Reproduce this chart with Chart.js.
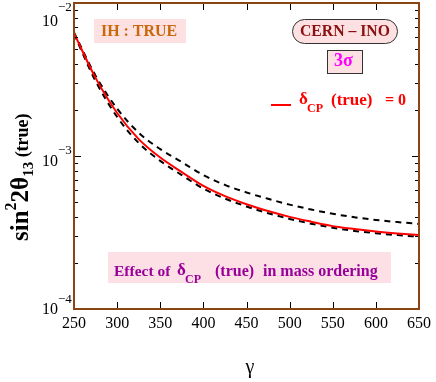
<!DOCTYPE html>
<html><head><meta charset="utf-8">
<script src="https://cdn.jsdelivr.net/npm/chart.js@4.4.1/dist/chart.umd.min.js"></script>
<style>html,body{margin:0;padding:0;background:#fff;}#wrap{width:436px;height:382px;}</style>
</head><body><div id="wrap"><canvas id="c" width="436" height="382"></canvas></div>
<script>
// ---- data ----
const gammaValues   = [250, 275, 300, 325, 350, 375, 400, 425, 450, 475, 500, 525, 550, 575, 600, 625, 650];
const redDeltaZero  = [6.34e-3, 3.24e-3, 1.91e-3, 1.29e-3, 9.77e-4, 7.85e-4, 6.38e-4, 5.47e-4, 4.84e-4, 4.37e-4, 4.00e-4, 3.72e-4, 3.48e-4, 3.33e-4, 3.21e-4, 3.12e-4, 3.05e-4];
const dashedUpper   = [6.41e-3, 3.35e-3, 2.04e-3, 1.42e-3, 1.109e-3, 9.12e-4, 7.50e-4, 6.47e-4, 5.78e-4, 5.25e-4, 4.81e-4, 4.47e-4, 4.19e-4, 3.98e-4, 3.82e-4, 3.70e-4, 3.60e-4];
const dashedLower   = [6.27e-3, 3.09e-3, 1.80e-3, 1.216e-3, 9.29e-4, 7.50e-4, 6.12e-4, 5.27e-4, 4.68e-4, 4.23e-4, 3.88e-4, 3.61e-4, 3.40e-4, 3.24e-4, 3.13e-4, 3.04e-4, 2.97e-4];
const xTickValues   = [250, 300, 350, 400, 450, 500, 550, 600, 650];
const yMajorTicks   = [1e-4, 1e-3, 1e-2];
const yTickExponent = ['\u22124', '\u22123', '\u22122'];

const SERIF = "'Liberation Serif','Times New Roman',serif";
const toXY = arr => gammaValues.map((g, i) => ({x: g, y: arr[i]}));

// bold text whose font size is chosen so it spans about a given width (capped)
function fitText(ctx, text, x, y, width, maxSize) {
  ctx.font = 'bold 100px ' + SERIF;
  let size = 100 * width / ctx.measureText(text).width;
  if (size > maxSize) size = maxSize;
  ctx.font = 'bold ' + size.toFixed(2) + 'px ' + SERIF;
  ctx.fillText(text, x, y);
}

const decorPlugin = {
  id: 'decor',
  afterDraw(chart) {
    const ctx = chart.ctx, a = chart.chartArea;
    const xs = chart.scales.x, ys = chart.scales.y;
    ctx.save();
    // ticks
    ctx.strokeStyle = '#000'; ctx.lineWidth = 1;
    ctx.beginPath();
    xTickValues.forEach(v => {
      const px = Math.round(xs.getPixelForValue(v)) + 0.5;
      ctx.moveTo(px, a.bottom); ctx.lineTo(px, a.bottom - 7);
      ctx.moveTo(px, a.top); ctx.lineTo(px, a.top + 7);
    });
    for (let e = -4; e <= -3; e++) {
      for (let k = 1; k <= 10; k++) {
        const v = k * Math.pow(10, e);
        const py = Math.round(ys.getPixelForValue(v)) + 0.5;
        const len = (k === 1 || k === 10) ? 7 : 4;
        ctx.moveTo(a.left, py); ctx.lineTo(a.left + len, py);
        ctx.moveTo(a.right, py); ctx.lineTo(a.right - len, py);
      }
    }
    ctx.stroke();
    // frame
    ctx.strokeStyle = '#8b4513'; ctx.lineWidth = 2;
    ctx.strokeRect(a.left, a.top, a.right - a.left, a.bottom - a.top);

    // y tick labels (10^n)
    const labelShift = [[1, -9], [6, -5], [19, 5]];
    ctx.fillStyle = '#000';
    yMajorTicks.forEach((v, i) => {
      const py = ys.getPixelForValue(v);
      ctx.font = '16px ' + SERIF;
      ctx.textAlign = 'right'; ctx.textBaseline = 'middle';
      ctx.fillText('10', 58, py + labelShift[i][0]);
      ctx.font = '13px ' + SERIF;
      ctx.textAlign = 'left';
      ctx.fillText(yTickExponent[i], 58, py + labelShift[i][1]);
    });

    // x title
    ctx.font = '20px ' + SERIF;
    ctx.textAlign = 'center'; ctx.textBaseline = 'alphabetic';
    ctx.fillText('\u03b3', 250, 373);

    // y title (rotated)
    ctx.save();
    ctx.translate(28, 241);
    ctx.rotate(-Math.PI / 2);
    ctx.textAlign = 'left'; ctx.textBaseline = 'alphabetic';
    let u = 0;
    const piece = (t, size, dv) => {
      ctx.font = 'bold ' + size + 'px ' + SERIF;
      ctx.fillText(t, u, dv);
      u += ctx.measureText(t).width;
    };
    piece('sin', 25, 0);
    piece('2', 16, -12);
    piece('2\u03b8', 25, 0);
    piece('13', 15, 5);
    piece(' (true)', 18, 0);
    ctx.restore();

    // annotation boxes
    const pink = '#fde0e2';
    ctx.textAlign = 'left'; ctx.textBaseline = 'alphabetic';
    // IH : TRUE
    ctx.fillStyle = pink; ctx.fillRect(94, 19, 92, 24);
    ctx.fillStyle = '#c8680a';
    fitText(ctx, 'IH : TRUE', 101, 36, 76, 16);
    // CERN - INO
    ctx.beginPath();
    ctx.roundRect(292.5, 19.5, 105, 24, 12);
    ctx.fillStyle = pink; ctx.fill();
    ctx.strokeStyle = '#333'; ctx.lineWidth = 1; ctx.stroke();
    ctx.fillStyle = '#8b1010';
    fitText(ctx, 'CERN \u2013 INO', 300, 36, 90, 16);
    // 3 sigma
    ctx.fillStyle = pink; ctx.fillRect(327.5, 50.5, 35, 23);
    ctx.strokeStyle = '#333'; ctx.strokeRect(327.5, 50.5, 35, 23);
    ctx.fillStyle = '#ff00ff';
    fitText(ctx, '3\u03c3', 334, 66, 20, 18);

    // legend
    ctx.strokeStyle = '#ff0000'; ctx.lineWidth = 2;
    ctx.beginPath(); ctx.moveTo(271, 105); ctx.lineTo(291, 105); ctx.stroke();
    ctx.fillStyle = '#ff0000';
    ctx.font = 'bold 17px ' + SERIF; ctx.fillText('\u03b4', 299, 104);
    ctx.font = 'bold 12px ' + SERIF; ctx.fillText('CP', 307, 112);
    fitText(ctx, '(true)', 331, 105, 42, 17);
    ctx.font = 'bold 16px ' + SERIF; ctx.fillText('= 0', 385, 105);

    // bottom note
    ctx.fillStyle = '#fde0e6'; ctx.fillRect(108, 252, 283, 31);
    ctx.fillStyle = '#990099';
    ctx.font = 'bold 15.5px ' + SERIF; ctx.fillText('Effect of', 114, 276);
    ctx.font = 'bold 17px ' + SERIF; ctx.fillText('\u03b4', 177, 275);
    ctx.font = 'bold 12px ' + SERIF; ctx.fillText('CP', 185, 283);
    fitText(ctx, '(true)', 215, 276, 40, 16);
    fitText(ctx, 'in mass ordering', 263, 276, 124, 16);
    ctx.restore();
  }
};

new Chart(document.getElementById('c'), {
  type: 'line',
  data: {
    datasets: [
      {label: 'delta_CP(true)=0', data: toXY(redDeltaZero), borderColor: '#ff0000', borderWidth: 2, pointRadius: 0, fill: false, cubicInterpolationMode: 'monotone'},
      {label: 'upper', data: toXY(dashedUpper), borderColor: '#000', borderWidth: 2, borderDash: [6, 5], pointRadius: 0, fill: false, cubicInterpolationMode: 'monotone'},
      {label: 'lower', data: toXY(dashedLower), borderColor: '#000', borderWidth: 2, borderDash: [6, 5], pointRadius: 0, fill: false, cubicInterpolationMode: 'monotone'}
    ]
  },
  options: {
    responsive: false, animation: false, devicePixelRatio: 1,
    layout: {padding: {left: 0, right: 16, top: 3, bottom: 0}},
    plugins: {legend: {display: false}, tooltip: {enabled: false}},
    scales: {
      x: {
        type: 'linear', min: 250, max: 650,
        afterFit: s => { s.height = 73; },
        afterBuildTicks: s => { s.ticks = xTickValues.map(v => ({value: v})); },
        grid: {display: false, drawTicks: false}, border: {display: false},
        ticks: {font: {family: SERIF, size: 16}, color: '#000', padding: 5, maxRotation: 0, autoSkip: false}
      },
      y: {
        type: 'logarithmic', min: 1e-4, max: 1e-2,
        afterFit: s => { s.width = 74; },
        grid: {display: false, drawTicks: false}, border: {display: false},
        ticks: {display: false}
      }
    }
  },
  plugins: [decorPlugin]
});
</script></body></html>
